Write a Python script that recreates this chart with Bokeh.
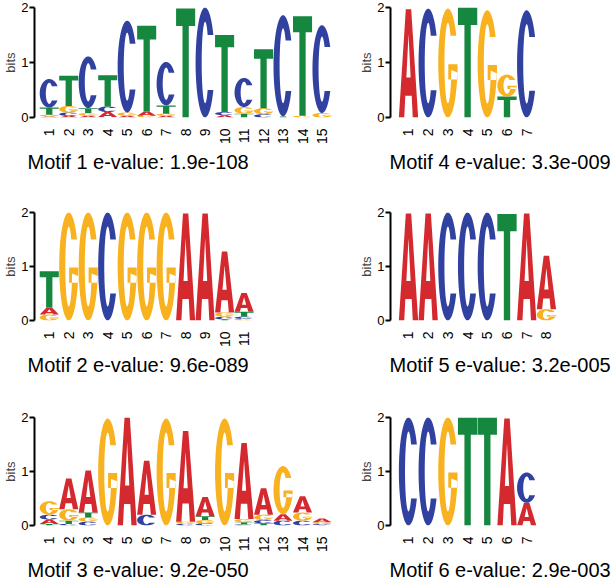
import numpy as np
from bokeh.plotting import figure
from bokeh.models import Range1d, FixedTicker, ColumnDataSource, Label
from bokeh.layouts import column, row
from bokeh.embed import file_html
from bokeh.resources import INLINE

BASES = ["A", "C", "G", "T"]
COLORS = {"A": "#D42A2F", "C": "#3141A0", "G": "#F8B11F", "T": "#15873F"}

# ---------------- data (bits per base per position) ----------------
m1_A = [0.02, 0.03, 0.03, 0.09, 0.03, 0.08, 0.03, 0.00, 0.00, 0.04, 0.00, 0.00, 0.00, 0.00, 0.00]
m1_C = [0.52, 0.06, 0.94, 0.10, 1.67, 0.00, 0.79, 0.00, 2.00, 0.06, 0.53, 0.06, 1.84, 0.00, 1.60]
m1_G = [0.03, 0.12, 0.05, 0.01, 0.06, 0.03, 0.04, 0.00, 0.00, 0.00, 0.12, 0.11, 0.00, 0.03, 0.08]
m1_T = [0.13, 0.55, 0.09, 0.57, 0.00, 1.56, 0.15, 1.98, 0.00, 1.40, 0.07, 1.07, 0.02, 1.81, 0.00]

m2_A = [0.13, 0.00, 0.00, 0.00, 0.00, 0.00, 0.00, 1.98, 1.98, 1.13, 0.35]
m2_C = [0.00, 0.00, 0.00, 2.00, 0.00, 0.00, 0.00, 0.00, 0.00, 0.05, 0.04]
m2_G = [0.11, 2.00, 2.00, 0.00, 2.00, 2.00, 2.00, 0.00, 0.00, 0.08, 0.03]
m2_T = [0.67, 0.00, 0.00, 0.00, 0.00, 0.00, 0.00, 0.00, 0.00, 0.02, 0.09]

m3_A = [0.08, 0.57, 0.78, 0.00, 2.00, 1.00, 0.00, 1.68, 0.36, 0.00, 1.41, 0.49, 0.12, 0.30, 0.07]
m3_C = [0.09, 0.03, 0.07, 0.00, 0.00, 0.20, 0.00, 0.03, 0.04, 0.00, 0.02, 0.06, 0.09, 0.09, 0.02]
m3_G = [0.25, 0.21, 0.08, 1.98, 0.00, 0.00, 1.98, 0.04, 0.06, 1.98, 0.06, 0.10, 0.89, 0.15, 0.03]
m3_T = [0.03, 0.06, 0.09, 0.00, 0.00, 0.00, 0.00, 0.00, 0.07, 0.00, 0.04, 0.04, 0.00, 0.00, 0.01]

m4_A = [1.97, 0.00, 0.00, 0.00, 0.00, 0.00, 0.00]
m4_C = [0.00, 1.98, 0.00, 0.00, 0.00, 0.00, 1.95]
m4_G = [0.00, 0.00, 1.98, 0.00, 1.95, 0.40, 0.00]
m4_T = [0.00, 0.00, 0.00, 2.00, 0.00, 0.38, 0.00]

m5_A = [1.98, 1.98, 0.00, 0.00, 0.00, 0.00, 1.98, 0.99]
m5_C = [0.00, 0.00, 2.00, 2.00, 2.00, 0.00, 0.00, 0.00]
m5_G = [0.00, 0.00, 0.00, 0.00, 0.00, 0.00, 0.00, 0.21]
m5_T = [0.00, 0.00, 0.00, 0.00, 0.00, 1.97, 0.00, 0.00]

m6_A = [0.00, 0.00, 0.00, 0.00, 0.00, 1.98, 0.42]
m6_C = [2.00, 2.00, 0.00, 0.00, 0.00, 0.00, 0.56]
m6_G = [0.00, 0.00, 2.00, 0.00, 0.00, 0.00, 0.00]
m6_T = [0.00, 0.00, 0.00, 2.00, 2.00, 0.00, 0.00]

captions = ["Motif 1 e-value: 1.9e-108", "Motif 2 e-value: 9.6e-089",
            "Motif 3 e-value: 9.2e-050", "Motif 4 e-value: 3.3e-009",
            "Motif 5 e-value: 3.2e-005", "Motif 6 e-value: 2.9e-003"]

# ---------------- letter shapes in a unit box ----------------
RXI, RYI = 0.18, 0.37

def band(t0, t1, p0, p1, rxo=0.5, ryo=0.5, rxi=RXI, ryi=RYI, n=48):
    th = np.radians(np.linspace(t0, t1, n))
    ph = np.radians(np.linspace(p1, p0, n))
    xs = np.concatenate([0.5 + rxo * np.cos(th), 0.5 + rxi * np.cos(ph)])
    ys = np.concatenate([0.5 + ryo * np.sin(th), 0.5 + ryi * np.sin(ph)])
    return list(xs), list(ys)

def hcut(t, ryo=0.5, ryi=RYI):
    s = np.clip(ryo * np.sin(np.radians(t)) / ryi, -1, 1)
    return np.degrees(np.arcsin(s))

_c0 = 30.0
_p0 = hcut(_c0)
SHAPES = {
    "T": [[([0, 1, 1, 0.665, 0.665, 0.335, 0.335, 0],
            [1, 1, 0.84, 0.84, 0, 0, 0.84, 0.84])]],
    "A": [[([0, 0.36, 0.64, 1, 0.72, 0.665, 0.335, 0.28],
            [0, 1, 1, 0, 0, 0.2, 0.2, 0]),
           ([0.39, 0.61, 0.5], [0.37, 0.37, 0.77])]],
    "C": [[band(_c0, 360 - _c0, _p0, 360 - _p0)]],
    "G": [[band(_c0, 350, _p0, 350)],
          [([0.52, 1.0, 1.0, 0.52], [0.35, 0.35, 0.49, 0.49])]],
}

def logo_source(A, C, G, T, width=0.98):
    xs, ys, cols = [], [], []
    for i in range(len(A)):
        vals = sorted([(v, b) for v, b in zip([A[i], C[i], G[i], T[i]], BASES) if v > 0],
                      key=lambda t: t[0])
        base = 0.0
        pos = i + 1
        for h, b in vals:
            gx, gy = [], []
            for poly in SHAPES[b]:
                gx.append([[pos - width / 2 + u * width for u in ring[0]] for ring in poly])
                gy.append([[base + v * h for v in ring[1]] for ring in poly])
            xs.append(gx)
            ys.append(gy)
            cols.append(COLORS[b])
            base += h
    return ColumnDataSource(dict(xs=xs, ys=ys, color=cols))

FONT = "Liberation Sans"

def panel(data, fw, fh, left, right, top, bottom, x0, x1):
    n = len(data[0])
    p = figure(width=fw, height=fh, x_range=Range1d(x0, x1), y_range=Range1d(0, 2),
               toolbar_location=None, output_backend="svg",
               min_border_left=left, min_border_right=right,
               min_border_top=top, min_border_bottom=bottom)
    p.outline_line_color = None
    p.grid.visible = False
    p.background_fill_color = "white"
    p.border_fill_color = "white"
    p.multi_polygons(xs="xs", ys="ys", source=logo_source(*data),
                     fill_color="color", line_color=None)
    xa = p.xaxis[0]
    xa.ticker = FixedTicker(ticks=list(range(1, n + 1)))
    xa.major_label_orientation = np.pi / 2
    xa.axis_line_color = None
    xa.major_tick_line_color = None
    xa.minor_tick_line_color = None
    xa.major_label_standoff = 5
    xa.major_label_text_font = FONT
    xa.major_label_text_font_size = "14px"
    xa.major_label_text_color = "black"
    ya = p.yaxis[0]
    ya.ticker = FixedTicker(ticks=[0, 1, 2])
    ya.minor_tick_line_color = None
    ya.axis_line_width = 2
    ya.axis_line_color = "black"
    ya.major_tick_line_width = 2
    ya.major_tick_line_color = "black"
    ya.major_tick_out = 5
    ya.major_tick_in = 0
    ya.major_label_standoff = 1
    ya.major_label_text_font = FONT
    ya.major_label_text_font_size = "13px"
    ya.major_label_text_color = "black"
    ya.axis_label = "bits"
    ya.axis_label_text_font = FONT
    ya.axis_label_text_font_size = "13px"
    ya.axis_label_text_font_style = "normal"
    ya.axis_label_standoff = 0
    return p

def caption_strip(text, fw, fh, tx, ty):
    c = figure(width=fw, height=fh, x_range=Range1d(0, 1), y_range=Range1d(0, 1),
               toolbar_location=None, output_backend="svg",
               x_axis_location=None, y_axis_location=None,
               min_border_left=0, min_border_right=0,
               min_border_top=0, min_border_bottom=0)
    c.outline_line_color = None
    c.grid.visible = False
    c.background_fill_color = "white"
    c.border_fill_color = "white"
    c.add_layout(Label(x=tx, y=ty, x_units="screen", y_units="screen", text=text,
                       text_font=FONT, text_font_size="20px",
                       text_baseline="alphabetic", text_align="left",
                       text_color="black"))
    return c

# horizontal scale: left column 19.8 px per position, right column 19.7
LX0, LX1 = 0.2424, 0.2424 + 311 / 19.8
RX0, RX1 = 0.0863, 0.0863 + 220 / 19.7
LW, RW = 345, 270

p1 = panel((m1_A, m1_C, m1_G, m1_T), LW, 150, 29, 5, 7, 33, LX0, LX1)
p4 = panel((m4_A, m4_C, m4_G, m4_T), RW, 150, 45, 5, 7, 33, RX0, RX1)
c1 = caption_strip(captions[0], LW, 50, 27, 38.5)
c4 = caption_strip(captions[3], RW, 50, 44, 38.5)

p2 = panel((m2_A, m2_C, m2_G, m2_T), LW, 150, 29, 5, 12, 27, LX0, LX1)
p5 = panel((m5_A, m5_C, m5_G, m5_T), RW, 150, 45, 5, 12, 27, RX0, RX1)
c2 = caption_strip(captions[1], LW, 55, 27, 40.5)
c5 = caption_strip(captions[4], RW, 55, 44, 40.5)

p3 = panel((m3_A, m3_C, m3_G, m3_T), LW, 150, 29, 5, 12, 27, LX0, LX1)
p6 = panel((m6_A, m6_C, m6_G, m6_T), RW, 150, 45, 5, 12, 27, RX0, RX1)
c3 = caption_strip(captions[2], LW, 26, 27, 11.5)
c6 = caption_strip(captions[5], RW, 26, 44, 11.5)

layout = column(row(p1, p4), row(c1, c4),
                row(p2, p5), row(c2, c5),
                row(p3, p6), row(c3, c6))

open("out.html", "w").write(file_html(layout, INLINE))
